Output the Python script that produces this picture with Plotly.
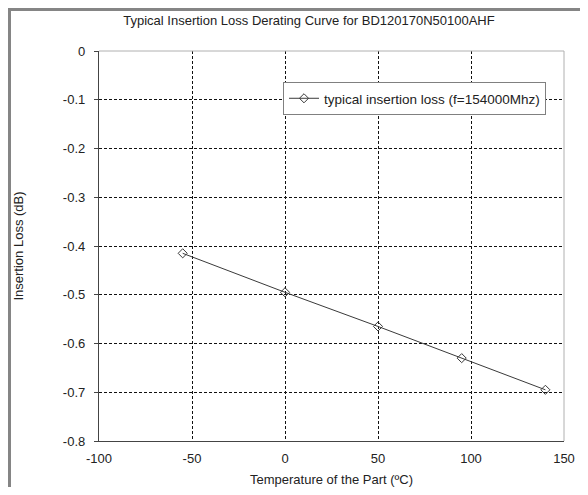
import plotly.graph_objects as go

temperature = [-55, 0, 50, 95, 140]
insertion_loss = [-0.415, -0.495, -0.565, -0.63, -0.695]
series_name = "typical insertion loss (f=154000Mhz)"
x_ticks = [-100, -50, 0, 50, 100, 150]
y_ticks = [0, -0.1, -0.2, -0.3, -0.4, -0.5, -0.6, -0.7, -0.8]

OFF = 8  # page body margin
W, H = 572, 479
# plot area in page pixels
PL, PR, PT, PB = 99, 564, 51, 441
L, T = PL - OFF, PT - OFF
R = W - (PR - OFF)
B = H - (PB - OFF)
pw, ph = PR - PL, PB - PT

def px_x(p):  # page px -> paper x
    return (p - PL) / pw

def px_y(p):  # page px -> paper y
    return (PB - p) / ph

fig = go.Figure()
fig.add_trace(go.Scatter(
    x=temperature, y=insertion_loss, mode="lines+markers", name=series_name,
    line=dict(color="#3a3a3a", width=1),
    marker=dict(symbol="diamond-open", size=7, color="#3a3a3a", line=dict(width=1)),
))

font = "Liberation Sans, Arial, sans-serif"
fig.update_layout(
    width=W, height=H,
    margin=dict(l=L, r=R, t=T, b=B, autoexpand=False),
    paper_bgcolor="white", plot_bgcolor="white",
    font=dict(family=font, size=13, color="#222"),
    showlegend=True,
    legend=dict(x=px_x(283), y=px_y(82), xanchor="left", yanchor="top",
                bgcolor="white", bordercolor="#808080", borderwidth=1,
                font=dict(size=13.5, color="#222"), itemwidth=30,
                tracegroupgap=0),
    title=dict(text="Typical Insertion Loss Derating Curve for BD120170N50100AHF",
               x=px_x(309), xref="paper", xanchor="center",
               y=1 - (20 - OFF) / H, yanchor="middle", font=dict(size=13, color="#222")),
    xaxis=dict(range=[-100, 150], tickvals=x_ticks, ticktext=[str(v) for v in x_ticks],
               showgrid=True, gridcolor="#111", griddash="3px,2px", gridwidth=1,
               showline=True, linecolor="#444", linewidth=1.3, zeroline=False,
               ticks="", tickfont=dict(size=13), ticklabelstandoff=5,
               title=dict(text="Temperature of the Part (ºC)", standoff=12, font=dict(size=13))),
    yaxis=dict(range=[-0.8, 0], tickvals=y_ticks,
               ticktext=[("0" if v == 0 else ("%g" % v)) for v in y_ticks],
               showgrid=True, gridcolor="#111", griddash="3px,2px", gridwidth=1,
               showline=True, linecolor="#444", linewidth=1.3, zeroline=False,
               ticks="outside", ticklen=4, tickcolor="#444",
               tickfont=dict(size=13), ticklabelstandoff=6,
               title=dict(text="Insertion Loss (dB)", standoff=36, font=dict(size=13))),
    shapes=[
        dict(type="line", xref="paper", yref="paper", x0=0, x1=1, y0=1, y1=1,
             line=dict(color="#b0b0b0", width=1)),
        dict(type="line", xref="paper", yref="paper", x0=1, x1=1, y0=0, y1=1,
             line=dict(color="#b0b0b0", width=1)),
        dict(type="line", xref="paper", yref="paper", x0=px_x(OFF), x1=px_x(OFF + W),
             y0=px_y(OFF + 1.5), y1=px_y(OFF + 1.5), line=dict(color="#858585", width=3)),
        dict(type="line", xref="paper", yref="paper", x0=px_x(OFF + 1.5), x1=px_x(OFF + 1.5),
             y0=px_y(OFF), y1=px_y(OFF + H), line=dict(color="#858585", width=3)),
    ],
)
fig.write_html("out.html")
